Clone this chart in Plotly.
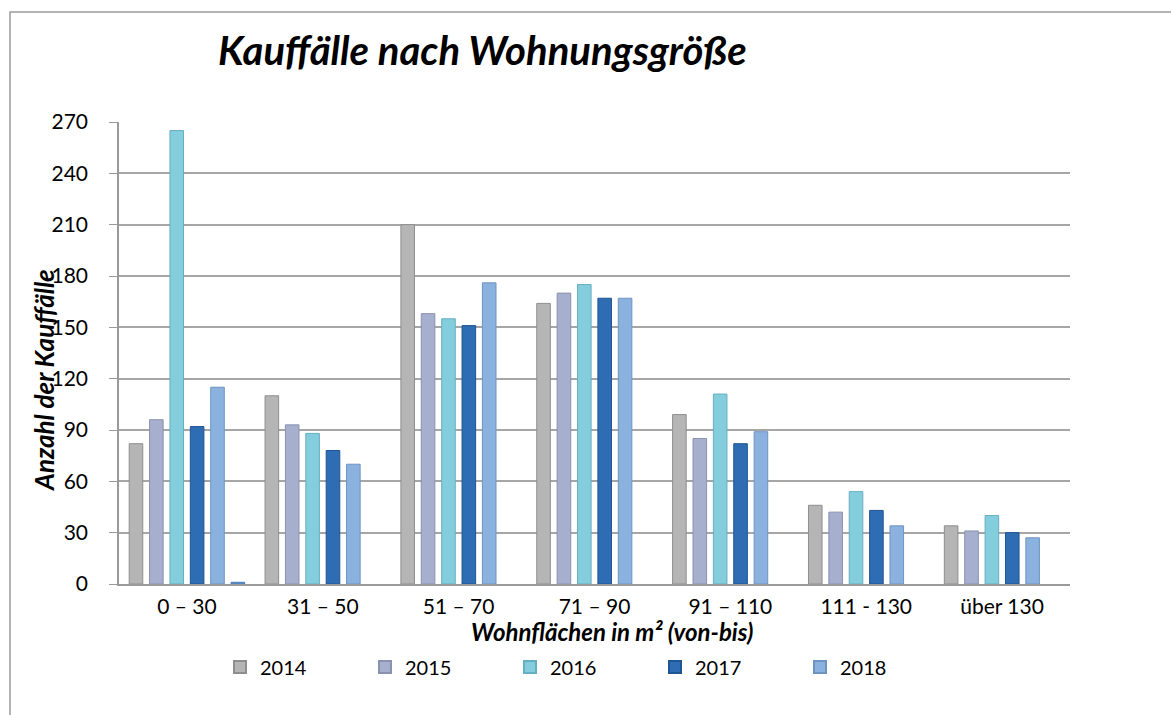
import plotly.graph_objects as go

categories = ["0 – 30", "31 – 50", "51 – 70", "71 – 90", "91 – 110", "111 - 130", "über 130"]
years = ["2014", "2015", "2016", "2017", "2018"]
v2014 = [82, 110, 210, 164, 99, 46, 34]
v2015 = [96, 93, 158, 170, 85, 42, 31]
v2016 = [265, 88, 155, 175, 111, 54, 40]
v2017 = [92, 78, 151, 167, 82, 43, 30]
v2018 = [115, 70, 176, 167, 89, 34, 27]
v_extra = [1, None, None, None, None, None, None]
yticks = [0, 30, 60, 90, 120, 150, 180, 210, 240, 270]

series = [v2014, v2015, v2016, v2017, v2018]
colors = ["#B5B5B5", "#A7AFCF", "#84CDDD", "#2E6CB3", "#8BB1DF"]
lines = ["#8E8E8E", "#8A92B0", "#66AFC0", "#1F5592", "#6E94C2"]

fig = go.Figure()
slot = 0.15
bw = 0.10
for i, (name, vals) in enumerate(zip(years, series)):
    center = -0.375 + i * slot
    fig.add_trace(go.Bar(
        x=categories, y=vals, name=name,
        marker=dict(color=colors[i], line=dict(color=lines[i], width=1)),
        width=bw, offset=center - bw / 2,
    ))
center = -0.375 + 5 * slot
fig.add_trace(go.Bar(
    x=categories, y=v_extra, name="", showlegend=False,
    marker=dict(color="#5B8FD0", line=dict(color="#4A7BB8", width=1)),
    width=bw, offset=center - bw / 2,
))

L, R, T, B = 119, 101, 122, 131
W, H = 1171, 715
pw = W - L - R
ph = H - T - B

def px(x):
    return (x - L) / pw

def py(y):
    return (H - B - y) / ph

fig.update_layout(
    width=W, height=H,
    margin=dict(l=L, r=R, t=T, b=B, autoexpand=False),
    paper_bgcolor="white", plot_bgcolor="white",
    barmode="overlay",
    font=dict(family="Lato, Carlito, Calibri, sans-serif", size=21, color="#000000"),
    showlegend=True,
    legend=dict(orientation="h", x=px(220), xanchor="left", y=py(667), yanchor="middle",
                entrywidth=100, entrywidthmode="pixels", font=dict(size=20),
                itemsizing="constant", bgcolor="rgba(0,0,0,0)"),
    xaxis=dict(type="category", showgrid=False, showline=True, linecolor="#9A9A9A", linewidth=1.5,
               ticks="", tickfont=dict(size=21), range=[-0.5, 6.5], ticklabelstandoff=3),
    yaxis=dict(range=[0, 270], tickvals=yticks, showgrid=True, gridcolor="#A6A6A6", gridwidth=1.5,
               showline=True, linecolor="#9A9A9A", linewidth=1.5, ticks="outside", ticklen=8,
               tickcolor="#9A9A9A", tickfont=dict(size=21), zeroline=False, ticklabelstandoff=17),
    annotations=[
        dict(text="<b><i>Kauffälle nach Wohnungsgröße</i></b>", x=px(482), y=py(50),
             xref="paper", yref="paper", showarrow=False, font=dict(size=40),
             xanchor="center", yanchor="middle"),
        dict(text="<b><i>Anzahl der Kauffälle</i></b>", x=px(44), y=py(381), textangle=-90,
             xref="paper", yref="paper", showarrow=False, font=dict(size=26),
             xanchor="center", yanchor="middle"),
        dict(text="<b><i>Wohnflächen in m² (von-bis)</i></b>", x=px(612), y=py(631),
             xref="paper", yref="paper", showarrow=False, font=dict(size=24),
             xanchor="center", yanchor="middle"),
    ],
    shapes=[
        dict(type="rect", xref="paper", yref="paper", x0=px(10), x1=px(1190), y0=py(740), y1=py(12),
             line=dict(color="#9A9A9A", width=1.5), fillcolor="rgba(0,0,0,0)", layer="below"),
    ],
)

fig.write_html("out.html", config={"displayModeBar": False},
               post_script="document.body.style.margin='0';document.body.style.overflow='hidden';")
